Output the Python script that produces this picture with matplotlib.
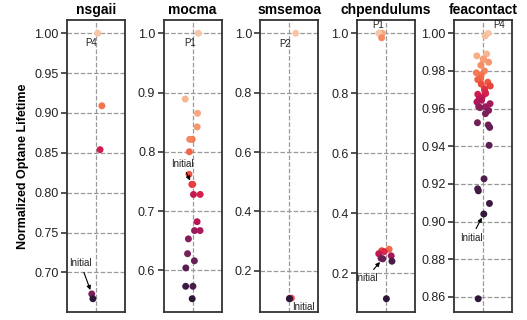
import numpy as np
import matplotlib
matplotlib.use('Agg')
import matplotlib.pyplot as plt
from matplotlib.ticker import MultipleLocator, FormatStrFormatter

plt.rcParams['font.family'] = ['Liberation Sans', 'DejaVu Sans']

# --- data (normalized lifetime of every explored configuration) ---
workloads = ['nsgaii', 'mocma', 'smsemoa', 'chpendulums', 'feacontact']

nsgaii = [1.000, 0.909, 0.854, 0.673, 0.667]
mocma = [1.000, 0.889, 0.865, 0.842, 0.821, 0.821, 0.800, 0.762, 0.745, 0.745,
         0.728, 0.728, 0.682, 0.667, 0.667, 0.653, 0.628, 0.616, 0.604, 0.573,
         0.573, 0.552]
smsemoa = [1.000, 0.108, 0.107, 0.106]
chpendulums = [1.000, 1.000, 0.985, 0.280, 0.275, 0.272, 0.265, 0.258, 0.250,
               0.248, 0.240, 0.115]
feacontact = [1.000, 0.9986, 0.989, 0.988, 0.9865, 0.986, 0.9846, 0.983, 0.980,
              0.979, 0.978, 0.976, 0.9754, 0.974, 0.973, 0.972, 0.9706, 0.970,
              0.9688, 0.968, 0.9676, 0.966, 0.965, 0.9644, 0.9635, 0.9626, 0.961,
              0.961, 0.9605, 0.959, 0.9573, 0.9525, 0.9513, 0.950, 0.9405, 0.9227,
              0.9174, 0.9163, 0.9096, 0.904, 0.859]

series = [nsgaii, mocma, smsemoa, chpendulums, feacontact]
best_labels = ['P4', 'P1', 'P2', 'P1', 'P4']
initial_values = [0.673, 0.745, 0.107, 0.248, 0.904]
tick_steps = [0.05, 0.1, 0.2, 0.2, 0.02]
tick_formats = ['%.2f', '%.1f', '%.1f', '%.1f', '%.2f']

# annotation offsets in points: (best label), (initial label)
best_offsets = [(-5, -7), (-6, -7), (-8, -8), (-3, 6), (8, 6)]
initial_offsets = [(-8, 22), (-7, 15), (10, -6), (-12, -14), (-9, -17)]
initial_arrows = [True, True, False, True, True]

fig, axes = plt.subplots(1, 5, figsize=(5.27, 3.2), dpi=100)
fig.subplots_adjust(left=0.127, right=0.9715, top=0.9375, bottom=0.025, wspace=0.67)

rng = np.random.default_rng(7)
cmap = plt.get_cmap('rocket') if 'rocket' in plt.colormaps() else None
if cmap is None:
    import seaborn as sns
    cmap = sns.color_palette('rocket', as_cmap=True)

for i, ax in enumerate(axes):
    vals = np.array(series[i])
    n = len(vals)
    # colour by rank inside the panel (dark = low, light = high)
    ranks = np.argsort(np.argsort(vals, kind='stable'), kind='stable')
    shade = 0.12 + 0.78 * ranks / max(n - 1, 1)
    xs = rng.uniform(-0.13, 0.13, n)
    ax.scatter(xs, vals, s=25, c=cmap(shade), edgecolors='none', zorder=3)

    ax.set_xlim(-0.5, 0.5)
    ax.set_xticks([0])
    ax.set_xticklabels([])
    ax.tick_params(axis='x', length=0)
    ax.yaxis.set_major_locator(MultipleLocator(tick_steps[i]))
    ax.yaxis.set_major_formatter(FormatStrFormatter(tick_formats[i]))
    ax.tick_params(axis='y', length=4, width=1.1, color='#222222',
                   labelsize=9, labelcolor='#222222', pad=2)
    ax.grid(True, linestyle='--', color='#9a9a9a', linewidth=0.9, zorder=0)
    ax.set_axisbelow(True)
    for sp in ax.spines.values():
        sp.set_color('#333333')
        sp.set_linewidth(1.3)
    ax.set_title(workloads[i], fontsize=10, fontweight='bold', pad=4)

    # best point label
    ib = int(np.argmax(vals))
    ax.annotate(best_labels[i], (xs[ib], vals[ib]), xytext=best_offsets[i],
                textcoords='offset points', fontsize=7, ha='center', va='center',
                color='#222222')

    # initial configuration label
    ii = int(np.argmin(np.abs(vals - initial_values[i])))
    arrow = dict(arrowstyle='-|>', color='black', lw=0.8, mutation_scale=6,
                 shrinkA=1, shrinkB=3) if initial_arrows[i] else None
    ax.annotate('Initial', (xs[ii], vals[ii]), xytext=initial_offsets[i],
                textcoords='offset points', fontsize=7, ha='center', va='center',
                color='#222222', arrowprops=arrow, zorder=4)

axes[0].set_ylabel('Normalized Optane Lifetime', fontsize=9, fontweight='bold')

fig.savefig('out.png', dpi=100)
